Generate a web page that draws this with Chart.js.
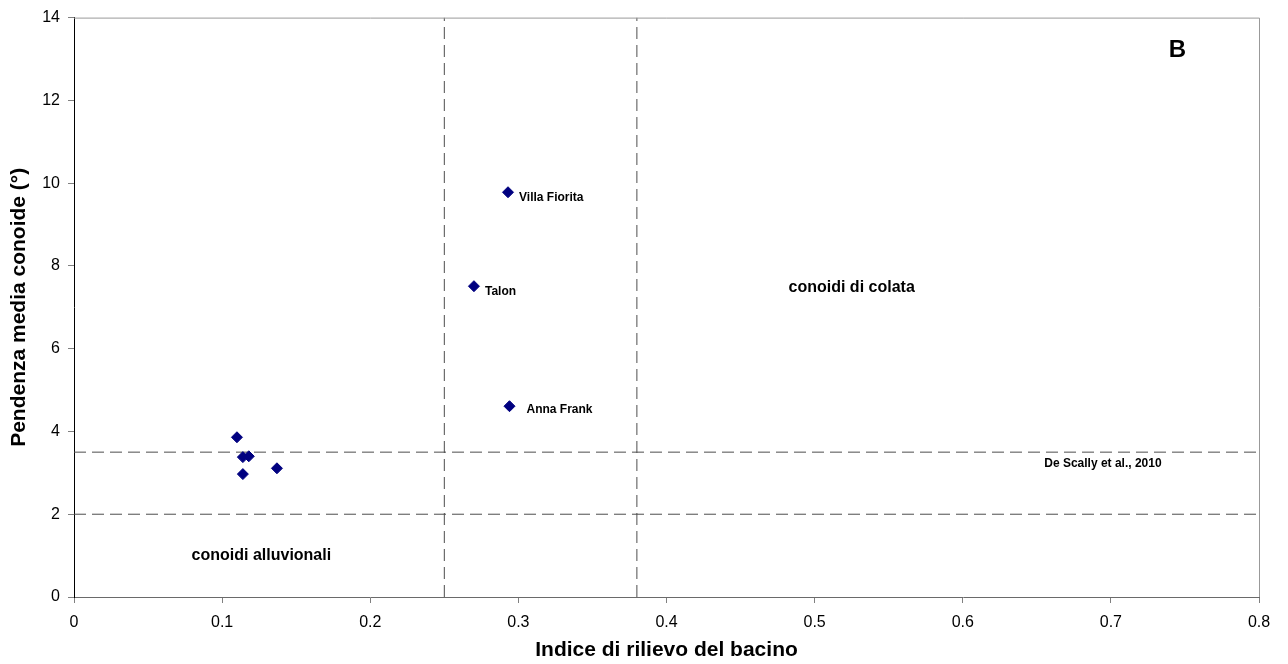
<!DOCTYPE html>
<html>
<head>
<meta charset="utf-8">
<script src="https://cdn.jsdelivr.net/npm/chart.js@4/dist/chart.umd.min.js"></script>
<style>
  html, body { margin: 0; padding: 0; background: #ffffff; }
  #wrap { width: 1288px; height: 664px; }
</style>
</head>
<body>
<div id="wrap"><canvas id="c" width="1288" height="664"></canvas></div>
<script>
// ---- data ----
const reliefIndex = [0.110, 0.114, 0.118, 0.114, 0.137, 0.293, 0.270, 0.294];
const fanSlope    = [3.86, 3.38, 3.40, 2.97, 3.11, 9.78, 7.51, 4.61];
const pointNames  = ['', '', '', '', '', 'Villa Fiorita', 'Talon', 'Anna Frank'];
const verticalThresholds   = [0.25, 0.38];
const horizontalThresholds = [3.5, 2];
const xTicks = [0, 0.1, 0.2, 0.3, 0.4, 0.5, 0.6, 0.7, 0.8];
const yTicks = [0, 2, 4, 6, 8, 10, 12, 14];
const xTitle = 'Indice di rilievo del bacino';
const yTitle = 'Pendenza media conoide (°)';

// ---- annotation layout (positions in data units, offsets in px) ----
const labelOffsets = [[0,0],[0,0],[0,0],[0,0],[0,0],[11,5],[11,5],[17,3]];
const zoneTexts = [
  { text: 'conoidi di colata',      x: 0.525, y: 7.48, align: 'center', font: 'bold 16px "Liberation Sans", Arial, sans-serif' },
  { text: 'conoidi alluvionali',    x: 0.1265, y: 1.01, align: 'center', font: 'bold 16px "Liberation Sans", Arial, sans-serif' },
  { text: 'De Scally et al., 2010', x: 0.655, y: 3.21, align: 'left',   font: 'bold 12px "Liberation Sans", Arial, sans-serif' },
  { text: 'B',                      x: 0.745, y: 13.2, align: 'center', font: 'bold 24px "Liberation Sans", Arial, sans-serif' }
];

const FONT = '"Liberation Sans", Arial, sans-serif';

const points = reliefIndex.map((x, i) => ({ x: x, y: fanSlope[i] }));

const lineDatasets = [];
verticalThresholds.forEach(v => {
  lineDatasets.push({
    type: 'line',
    data: [{ x: v, y: yTicks[0] }, { x: v, y: yTicks[yTicks.length - 1] }],
    borderColor: '#4d4d4d', borderWidth: 1, borderDash: [12, 6],
    pointRadius: 0, fill: false, order: 2
  });
});
horizontalThresholds.forEach(h => {
  lineDatasets.push({
    type: 'line',
    data: [{ x: xTicks[0], y: h }, { x: xTicks[xTicks.length - 1], y: h }],
    borderColor: '#4d4d4d', borderWidth: 1, borderDash: [12, 6],
    pointRadius: 0, fill: false, order: 2
  });
});

const annotationPlugin = {
  id: 'annotations',
  afterDatasetsDraw(chart) {
    const ctx = chart.ctx;
    const xs = chart.scales.x, ys = chart.scales.y;
    ctx.save();
    const meta = chart.getDatasetMeta(0);
    ctx.fillStyle = '#000';
    ctx.font = 'bold 12px ' + FONT;
    ctx.textAlign = 'left';
    ctx.textBaseline = 'middle';
    meta.data.forEach((el, i) => {
      if (!pointNames[i]) return;
      ctx.fillText(pointNames[i], el.x + labelOffsets[i][0], el.y + labelOffsets[i][1]);
    });
    zoneTexts.forEach(t => {
      ctx.font = t.font;
      ctx.textAlign = t.align;
      ctx.fillText(t.text, xs.getPixelForValue(t.x), ys.getPixelForValue(t.y));
    });
    ctx.restore();
  },
  afterDraw(chart) {
    const a = chart.chartArea, ctx = chart.ctx;
    ctx.save();
    ctx.strokeStyle = '#999999';
    ctx.lineWidth = 1;
    ctx.beginPath();
    ctx.moveTo(a.left, a.top + 0.5);
    ctx.lineTo(a.right + 0.5, a.top + 0.5);
    ctx.lineTo(a.right + 0.5, a.bottom);
    ctx.stroke();
    ctx.restore();
  }
};

new Chart(document.getElementById('c'), {
  type: 'scatter',
  data: {
    datasets: [
      {
        type: 'scatter',
        data: points,
        pointStyle: 'rectRot',
        pointRadius: 5.5,
        pointHoverRadius: 5.5,
        backgroundColor: '#000080',
        borderColor: '#000080',
        borderWidth: 1,
        order: 0
      },
      ...lineDatasets
    ]
  },
  options: {
    responsive: false,
    animation: false,
    events: [],
    layout: { padding: { top: 17, right: 29, left: 0, bottom: 0 } },
    plugins: { legend: { display: false }, tooltip: { enabled: false } },
    scales: {
      x: {
        type: 'linear',
        min: xTicks[0], max: xTicks[xTicks.length - 1],
        afterBuildTicks(scale) { scale.ticks = xTicks.map(v => ({ value: v })); },
        afterFit(scale) { scale.height = 67; },
        ticks: {
          color: '#000', padding: 10, maxRotation: 0,
          font: { family: FONT, size: 16 },
          callback: v => String(v)
        },
        grid: { display: true, drawOnChartArea: false, drawTicks: true, tickLength: 6, color: '#808080' },
        border: { display: true, color: '#6a6a6a', width: 1 },
        title: {
          display: true, text: xTitle, color: '#000',
          font: { family: FONT, size: 21, weight: 'bold' },
          padding: { top: 0, bottom: 1 }
        }
      },
      y: {
        type: 'linear',
        min: yTicks[0], max: yTicks[yTicks.length - 1],
        afterBuildTicks(scale) { scale.ticks = yTicks.map(v => ({ value: v })); },
        afterFit(scale) { scale.width = 74; },
        ticks: {
          color: '#000', padding: 8,
          font: { family: FONT, size: 16 },
          callback: v => String(v)
        },
        grid: { display: true, drawOnChartArea: false, drawTicks: true, tickLength: 6, color: '#808080' },
        border: { display: true, color: '#000000', width: 1 },
        title: {
          display: true, text: yTitle, color: '#000',
          font: { family: FONT, size: 21, weight: 'bold' },
          padding: { top: 7, bottom: 0 }
        }
      }
    }
  },
  plugins: [annotationPlugin]
});
</script>
</body>
</html>
